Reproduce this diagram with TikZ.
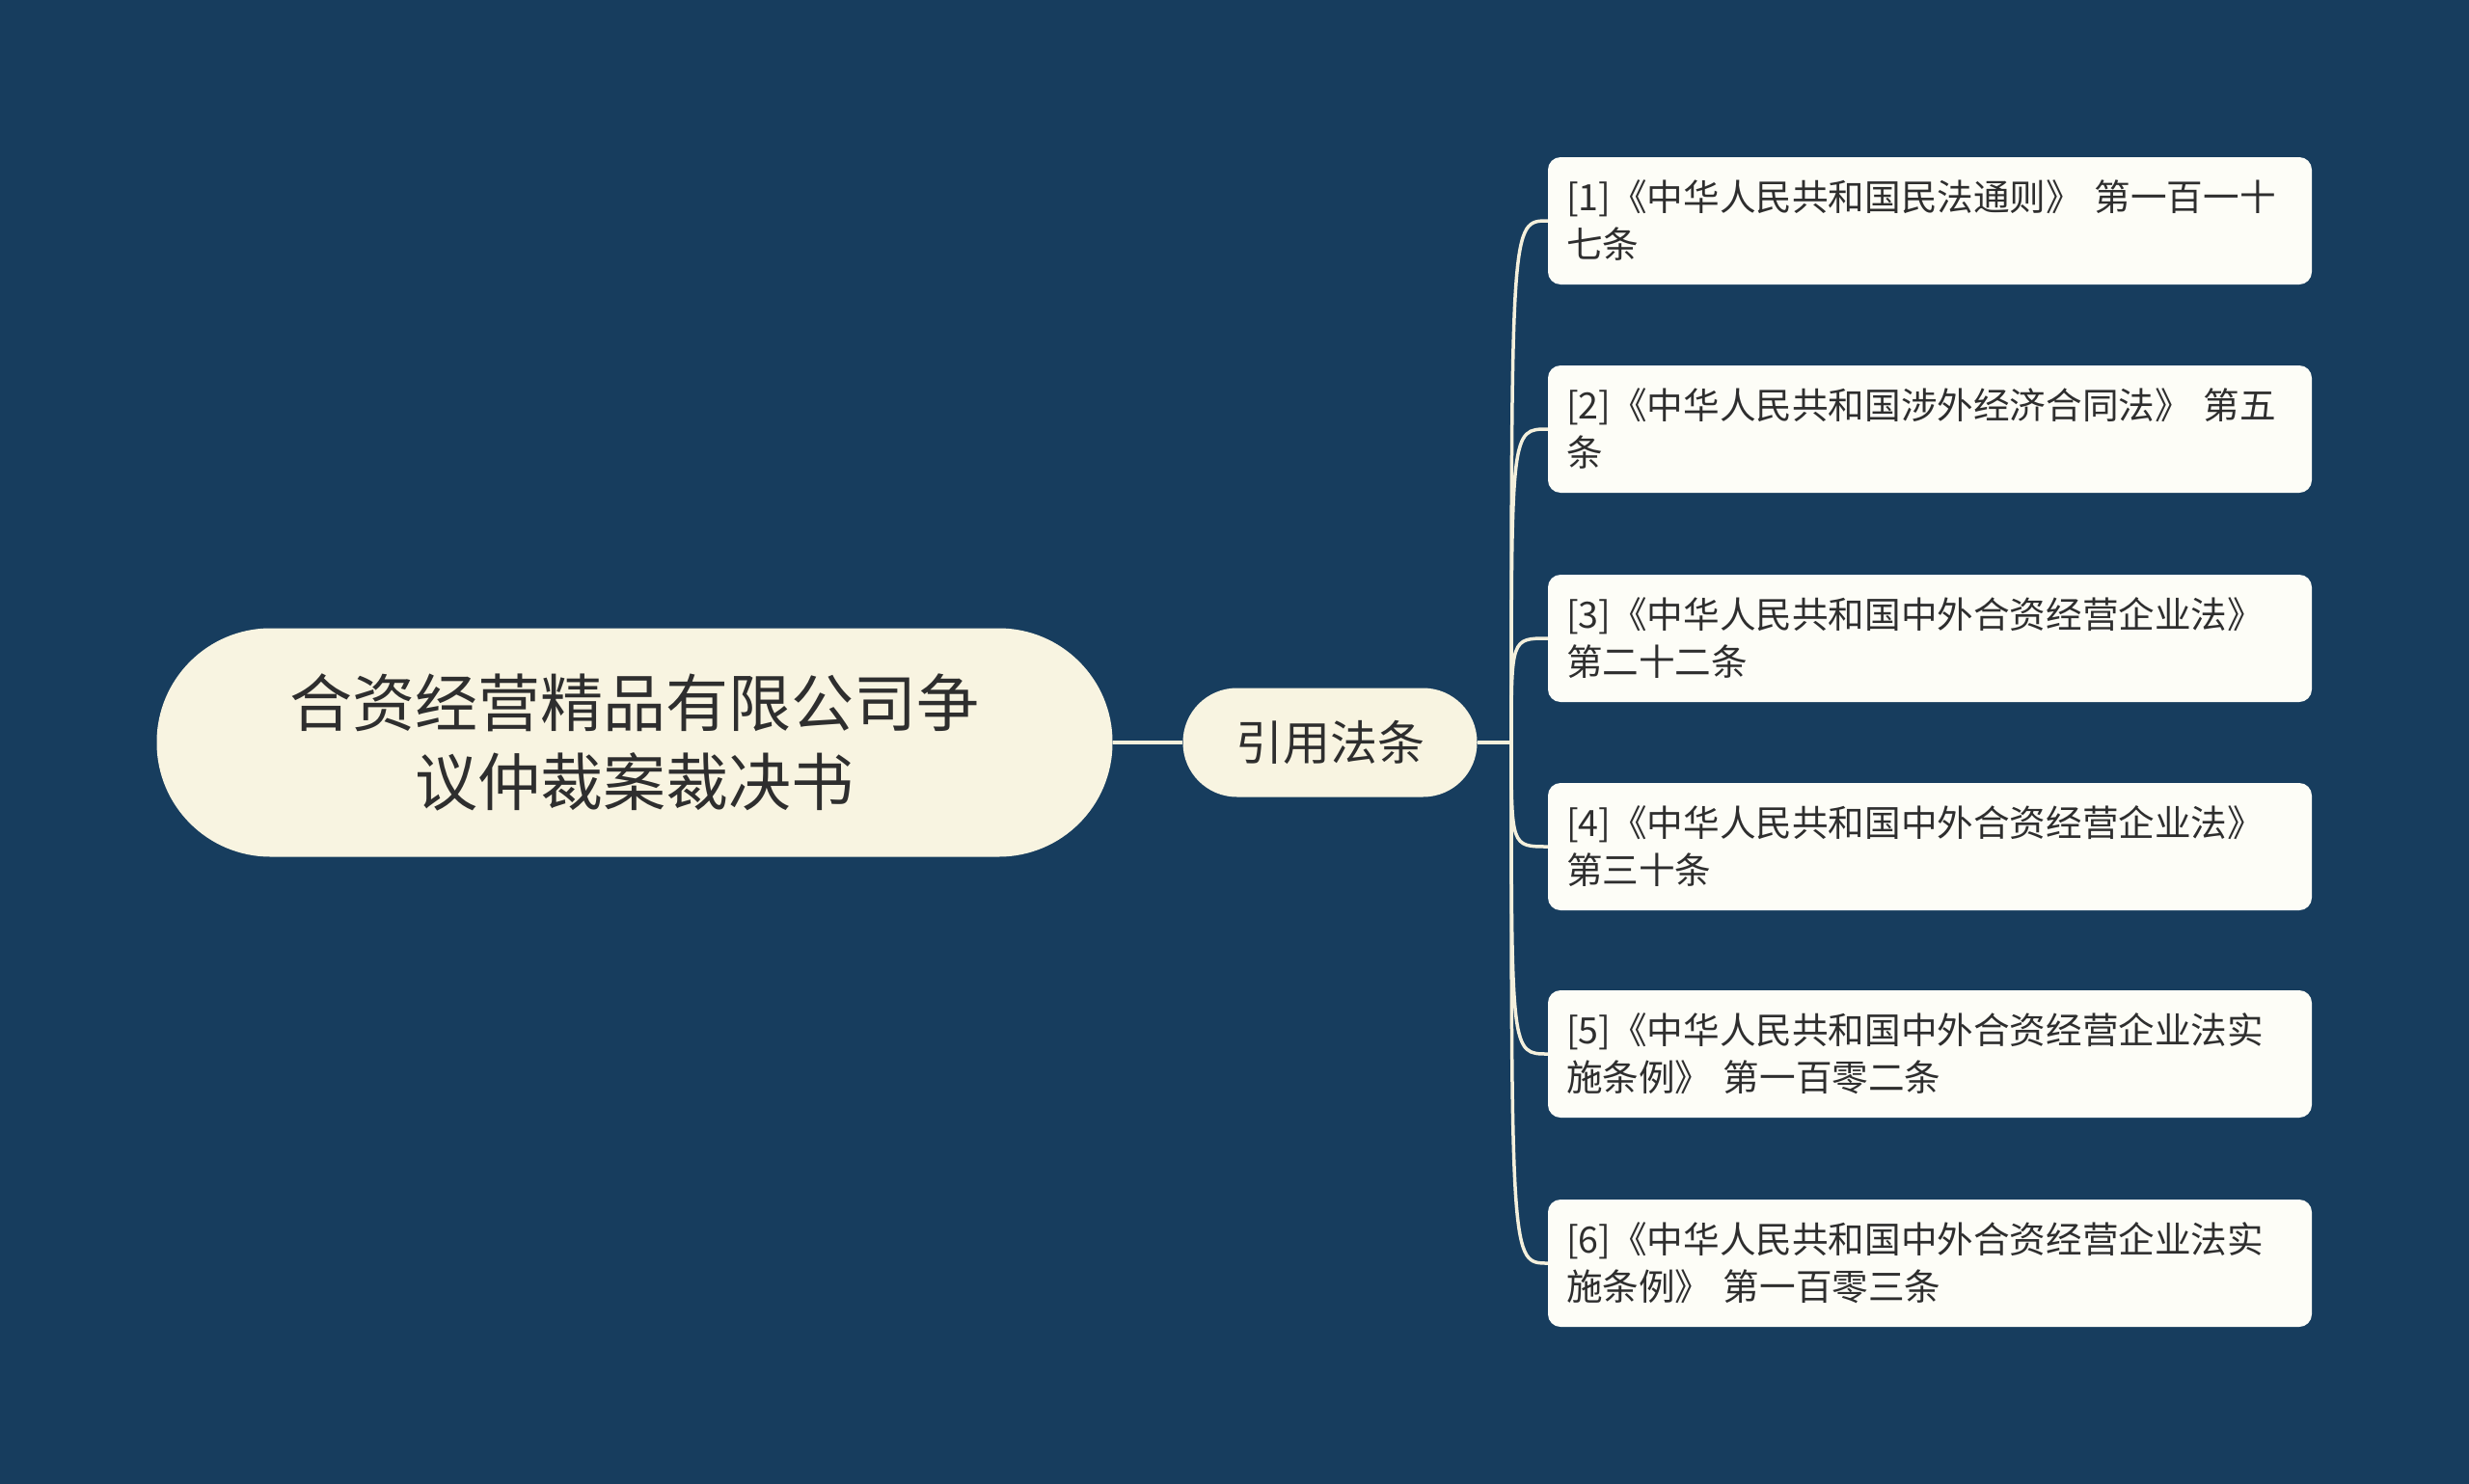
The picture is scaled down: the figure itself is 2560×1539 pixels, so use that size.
\documentclass[tikz,border=0pt]{standalone}
\usepackage{fontspec}
\setmainfont{Noto Sans CJK SC}
\definecolor{bgblue}{HTML}{173D5E}
\definecolor{rootfill}{HTML}{F8F4E1}
\definecolor{leaffill}{HTML}{FDFDF7}
\definecolor{linkcol}{HTML}{F4F0DC}
\definecolor{inkcol}{HTML}{2E2E2E}
\begin{document}
\begin{tikzpicture}[x=1pt, y=-1pt,
    rootbox/.style={draw=none, fill=rootfill, rounded corners=118pt, minimum width=991pt, minimum height=237pt, align=center, text=inkcol, font=\fontsize{65}{82}\selectfont},
    midbox/.style={draw=none, fill=rootfill, rounded corners=56pt, minimum width=305pt, minimum height=113pt, text=inkcol, font=\fontsize{49}{56}\selectfont},
    leafbox/.style={draw=none, fill=leaffill, rounded corners=13pt, text width=754pt, inner xsep=19pt, minimum height=132pt, align=left, text=inkcol, font=\fontsize{37.6}{49}\selectfont},
    link/.style={draw=linkcol, line width=3.5pt}]
    \useasboundingbox[fill=bgblue] (0,0) rectangle (2560,1539);

    \node[rootbox] (AA) at (658,770) {合资经营精品有限公司争\\议仲裁案裁决书};
    \node[midbox] (AB) at (1379,770) {引用法条};
    \coordinate (J) at (1567,770);

    \node[leafbox] (AC) at (2001,229) {[1]《中华人民共和国民法通则》 第一百一十\\七条};
    \node[leafbox] (AD) at (2001,445) {[2]《中华人民共和国涉外经济合同法》 第五\\条};
    \node[leafbox] (AE) at (2001,662) {[3]《中华人民共和国中外合资经营企业法》\\第二十二条};
    \node[leafbox] (AF) at (2001,878) {[4]《中华人民共和国中外合资经营企业法》\\第三十条};
    \node[leafbox] (AG) at (2001,1093) {[5]《中华人民共和国中外合资经营企业法实\\施条例》 第一百零二条};
    \node[leafbox] (AH) at (2001,1310) {[6]《中华人民共和国中外合资经营企业法实\\施条例》 第一百零三条};

    \draw[link] (AA.east)--(AB.west);
    \draw[link] (AB.east)--(J);
    \draw[link] (J) .. controls (J |- AC.west) .. (AC.west);
    \draw[link] (J) .. controls (J |- AD.west) .. (AD.west);
    \draw[link] (J) .. controls (J |- AE.west) .. (AE.west);
    \draw[link] (J) .. controls (J |- AF.west) .. (AF.west);
    \draw[link] (J) .. controls (J |- AG.west) .. (AG.west);
    \draw[link] (J) .. controls (J |- AH.west) .. (AH.west);
\end{tikzpicture}
\end{document}
